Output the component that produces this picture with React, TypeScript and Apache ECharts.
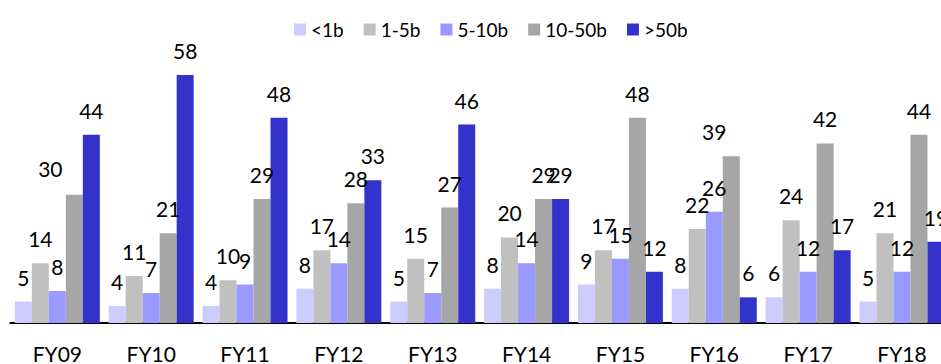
import React, { useEffect, useRef } from "react";
import * as echarts from "echarts";

const categories = ["FY09", "FY10", "FY11", "FY12", "FY13", "FY14", "FY15", "FY16", "FY17", "FY18"];
const seriesNames = ["<1b", "1-5b", "5-10b", "10-50b", ">50b"];
const under1b = [5, 4, 4, 8, 5, 8, 9, 8, 6, 5];
const b1to5 = [14, 11, 10, 17, 15, 20, 17, 22, 24, 21];
const b5to10 = [7.5, 7, 9, 14, 7, 14, 15, 26, 12, 12];
const b10to50 = [30, 21, 29, 28, 27, 29, 48, 39, 42, 44];
const over50b = [44, 58, 48, 33.4, 46.4, 29, 12, 6, 17, 19];
const colors = ["#CCCCFF", "#C0C0C0", "#9999FF", "#A6A6A6", "#3333CC"];

const FONT = "Lato, 'Open Sans', sans-serif";

export default function App() {
  const ref = useRef<HTMLDivElement>(null);
  useEffect(() => {
    if (!ref.current) return;
    const chart = echarts.init(ref.current, undefined, { renderer: "svg" });
    const all = [under1b, b1to5, b5to10, b10to50, over50b];
    // label nudges seen in the reference (series index -> category index -> offset)
    const nudges: Record<string, number[]> = { "3-0": [-24, -2], "3-7": [-17, 0] };
    chart.setOption({
      animation: false,
      legend: {
        left: 289,
        top: 15,
        itemWidth: 12,
        itemHeight: 12,
        itemGap: 20,
        icon: "rect",
        textStyle: { fontFamily: FONT, fontSize: 19, color: "#000" },
        data: seriesNames,
      },
      grid: { left: 10.4, top: 66.4, width: 938.5, height: 257.6 },
      xAxis: {
        type: "category",
        data: categories,
        axisLine: { lineStyle: { color: "#000", width: 2 } },
        axisTick: { show: false },
        axisLabel: { fontFamily: FONT, fontSize: 21, color: "#000", margin: 20 },
      },
      yAxis: { type: "value", min: 0, max: 60, show: false, splitLine: { show: false } },
      series: all.map((arr, si) => ({
        name: seriesNames[si],
        type: "bar",
        barWidth: 17,
        barGap: "0%",
        itemStyle: { color: colors[si] },
        label: {
          show: true,
          position: "top",
          distance: 14,
          fontFamily: FONT,
          fontSize: 21,
          color: "#000",
          formatter: (p: any) => String(Math.round(p.value)),
        },
        data: arr.map((v, ci) => {
          const off = nudges[`${si}-${ci}`];
          return off ? { value: v, label: { offset: off } } : v;
        }),
      })),
    });
    return () => chart.dispose();
  }, []);
  return (
    <div
      style={{
        position: "fixed",
        left: 0,
        top: 0,
        width: 941,
        height: 364,
        overflow: "hidden",
        background: "#fff",
      }}
    >
      <div ref={ref} style={{ width: 960, height: 364 }} />
    </div>
  );
}
